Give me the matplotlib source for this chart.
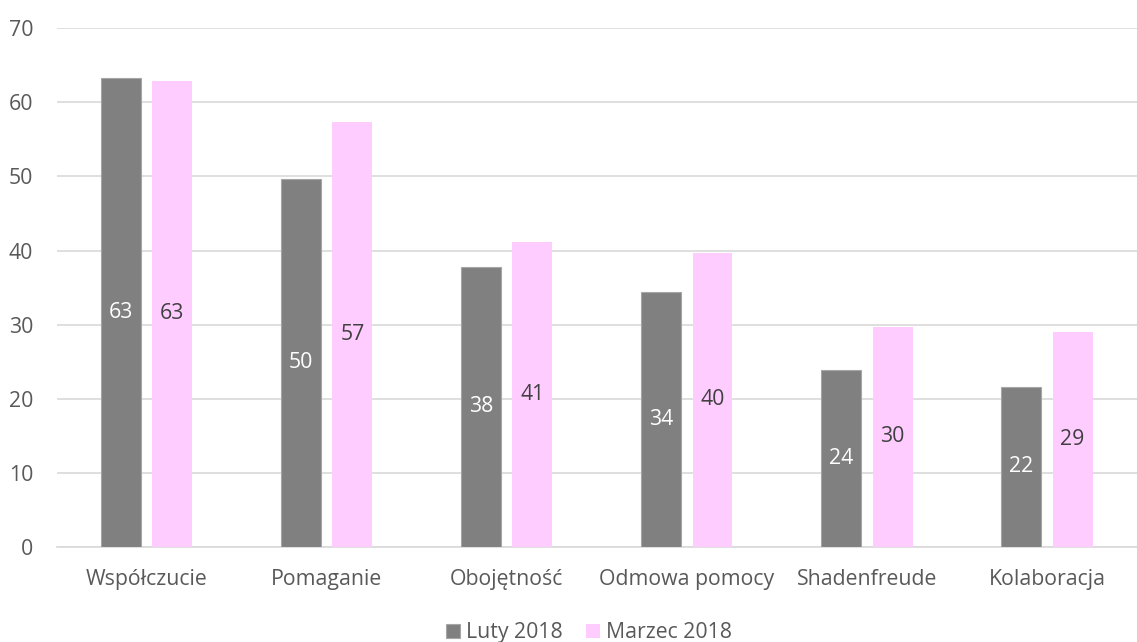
import numpy as np
import matplotlib.pyplot as plt
from matplotlib.ticker import MultipleLocator

categories = ['Współczucie', 'Pomaganie', 'Obojętność', 'Odmowa pomocy', 'Shadenfreude', 'Kolaboracja']
series_names = ['Luty 2018', 'Marzec 2018']
luty = [63.3, 49.7, 37.8, 34.4, 23.9, 21.6]
marzec = [62.9, 57.4, 41.2, 39.7, 29.7, 29.0]

plt.rcParams['font.family'] = ['Open Sans', 'DejaVu Sans']
text_col = '#595959'
fs = 15.3

fig = plt.figure(figsize=(11.37, 6.42), dpi=100)
ax = fig.add_axes([0.050, 0.148, 0.95, 0.808])

x = np.arange(len(categories))
w = 0.222
off = 0.142
b1 = ax.bar(x - off, luty, w, color='#808080', edgecolor='#A6A6A6', linewidth=0.8, label=series_names[0], zorder=3)
b2 = ax.bar(x + off, marzec, w, color='#FFCCFF', linewidth=0, label=series_names[1], zorder=3)

for bars, vals, c in [(b1, luty, 'white'), (b2, marzec, '#404040')]:
    for r, v in zip(bars, vals):
        ax.text(r.get_x() + r.get_width() / 2, v / 2, f'{v:.0f}', ha='center', va='center',
                fontsize=fs, color=c, zorder=4)

ax.set_xlim(-0.5, len(categories) - 0.5)
ax.set_ylim(0, 70)
ax.yaxis.set_major_locator(MultipleLocator(10))
ax.grid(axis='y', color='#D9D9D9', linewidth=1.2, zorder=0)
for s in ['top', 'right', 'left']:
    ax.spines[s].set_visible(False)
ax.spines['bottom'].set_color('#D9D9D9')
ax.spines['bottom'].set_linewidth(1.2)
ax.set_xticks(x)
ax.set_xticklabels(categories)
ax.tick_params(axis='both', length=0, labelsize=fs, labelcolor=text_col)
ax.tick_params(axis='x', pad=16)
ax.tick_params(axis='y', pad=17)

leg = fig.legend(handles=[b1, b2], loc='lower center', bbox_to_anchor=(0.518, -0.032), ncol=2,
                 frameon=False, fontsize=fs, handlelength=0.65, handleheight=0.65,
                 handletextpad=0.3, columnspacing=1.1)
for t in leg.get_texts():
    t.set_color(text_col)

fig.savefig('out.png', dpi=100)
